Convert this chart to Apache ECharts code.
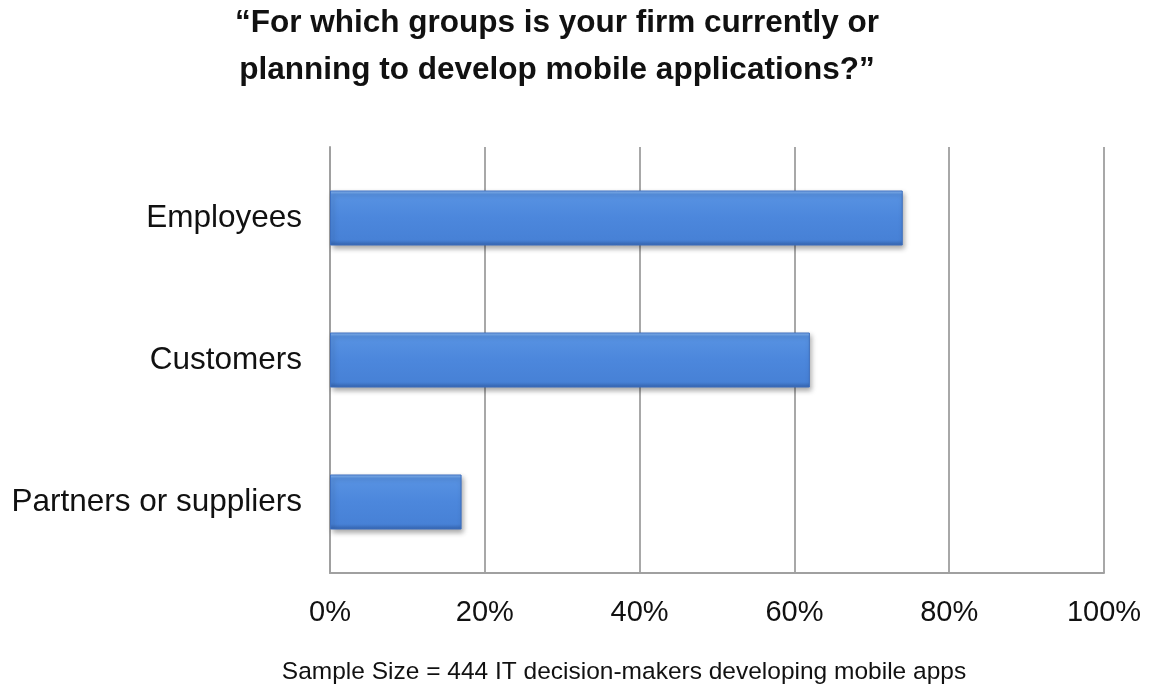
<!DOCTYPE html>
<html>
<head>
<meta charset="utf-8">
<script src="https://cdn.jsdelivr.net/npm/echarts@6/dist/echarts.min.js"></script>
<style>
  html, body { margin: 0; padding: 0; background: #ffffff; }
  #chart { width: 1151px; height: 689px; }
</style>
</head>
<body>
<div id="chart"></div>
<script>
// Survey groups, top to bottom
const categories = ['Employees', 'Customers', 'Partners or suppliers'];
// Share of respondents (%)
const shares = [74, 62, 17];
// Value axis ticks
const tickValues = [0, 20, 40, 60, 80, 100];

const titleLines = ['\u201CFor which groups is your firm currently or', 'planning to develop mobile applications?\u201D'];
const footnote = 'Sample Size = 444 IT decision-makers developing mobile apps';

const FONT = "'Liberation Sans', Arial, sans-serif";
const chart = echarts.init(document.getElementById('chart'), null, { renderer: 'canvas' });

chart.setOption({
  backgroundColor: '#ffffff',
  animation: false,
  grid: { left: 330, right: 47, top: 147, bottom: 116, containLabel: false },
  xAxis: {
    type: 'value',
    min: tickValues[0],
    max: tickValues[tickValues.length - 1],
    interval: tickValues[1] - tickValues[0],
    axisLine: { show: true, lineStyle: { color: '#a0a0a0', width: 2 } },
    axisTick: { show: false },
    splitLine: { show: true, lineStyle: { color: '#a8a8a8', width: 2 } },
    axisLabel: {
      margin: 25,
      color: '#111111',
      fontFamily: FONT,
      fontSize: 29,
      formatter: v => v + '%'
    }
  },
  yAxis: {
    type: 'category',
    data: categories,
    inverse: true,
    axisLine: { show: true, lineStyle: { color: '#a0a0a0', width: 2 } },
    axisTick: { show: false },
    splitLine: { show: false },
    axisLabel: {
      margin: 28,
      color: '#111111',
      fontFamily: FONT,
      fontSize: 31.5,
      padding: [11, 0, 0, 0]
    }
  },
  series: [{
    type: 'bar',
    data: shares,
    barWidth: 55,
    itemStyle: {
      color: new echarts.graphic.LinearGradient(0, 0, 0, 1, [
        { offset: 0, color: '#8dbaf2' },
        { offset: 0.07, color: '#5892e2' },
        { offset: 0.5, color: '#4c87dc' },
        { offset: 0.9, color: '#4781d6' },
        { offset: 1, color: '#3463ad' }
      ]),
      borderColor: '#3d6fbf',
      borderWidth: 1,
      shadowColor: 'rgba(0,0,0,0.35)',
      shadowBlur: 5,
      shadowOffsetX: 2,
      shadowOffsetY: 3
    }
  }],
  graphic: [
    {
      type: 'text',
      x: 557, y: 23,
      style: {
        text: titleLines[0],
        font: "bold 31.5px " + FONT,
        fill: '#111111',
        align: 'center',
        verticalAlign: 'middle'
      }
    },
    {
      type: 'text',
      x: 557, y: 70,
      style: {
        text: titleLines[1],
        font: "bold 31.5px " + FONT,
        fill: '#111111',
        align: 'center',
        verticalAlign: 'middle'
      }
    },
    {
      type: 'text',
      x: 624, y: 672,
      style: {
        text: footnote,
        font: "24.5px " + FONT,
        fill: '#111111',
        align: 'center',
        verticalAlign: 'middle'
      }
    }
  ]
});
</script>
</body>
</html>
